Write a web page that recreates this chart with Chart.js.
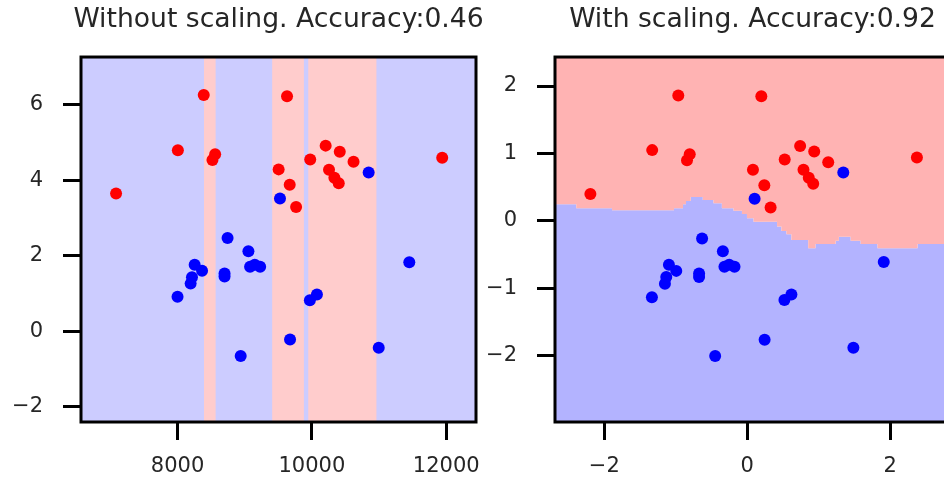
<!DOCTYPE html>
<html>
<head>
<meta charset="utf-8">
<script src="https://cdn.jsdelivr.net/npm/chart.js@4/dist/chart.umd.min.js"></script>
<style>
  html, body { margin: 0; padding: 0; background: #fff; overflow: hidden; width: 944px; height: 481px; }
  canvas { position: absolute; top: 0; }
  #left { left: 0; }
  #right { left: 474px; }
</style>
</head>
<body>
<canvas id="left" width="557" height="481"></canvas>
<canvas id="right" width="557" height="481"></canvas>
<script>
// ---- Unscaled features (left panel) ----
const rawRedX  = [8390, 9630, 8005, 8560, 8520, 7085, 10205, 10415, 9975, 10620, 9505, 10255, 10335, 10400, 9670, 9765, 11940];
const rawRedY  = [6.26, 6.23, 4.80, 4.69, 4.54, 3.65, 4.92, 4.76, 4.55, 4.49, 4.29, 4.28, 4.07, 3.92, 3.88, 3.29, 4.60];
const rawBlueX = [10845, 9525, 8745, 9055, 8255, 8365, 9080, 9150, 9230, 8700, 8700, 8215, 8195, 8000, 11450, 10075, 9970, 9675, 10995, 8940];
const rawBlueY = [4.21, 3.52, 2.47, 2.12, 1.76, 1.60, 1.71, 1.76, 1.71, 1.53, 1.45, 1.43, 1.26, 0.91, 1.83, 0.97, 0.82, -0.22, -0.44, -0.66];

// Decision regions of the unscaled model: edges along feature 1 and the class of each interval (1 = red)
const rawEdges   = [8394, 8567, 9409, 9881, 9946, 10961];
const rawClasses = [0, 1, 0, 1, 0, 1, 0];

// ---- Standardised features (right panel) ----
const stdRedX  = [-0.965, 0.197, -1.33, -0.805, -0.843, -2.195, 0.740, 0.937, 0.524, 1.133, 0.080, 0.787, 0.861, 0.923, 0.239, 0.327, 2.374];
const stdRedY  = [1.86, 1.85, 1.05, 0.99, 0.90, 0.40, 1.11, 1.03, 0.91, 0.87, 0.76, 0.76, 0.64, 0.55, 0.53, 0.20, 0.94];
const stdBlueX = [1.344, 0.103, -0.632, -0.341, -1.096, -0.993, -0.319, -0.253, -0.178, -0.674, -0.674, -1.133, -1.152, -1.334, 1.910, 0.618, 0.520, 0.243, 1.485, -0.449];
const stdBlueY = [0.72, 0.33, -0.26, -0.45, -0.65, -0.74, -0.68, -0.65, -0.68, -0.78, -0.83, -0.83, -0.93, -1.13, -0.61, -1.09, -1.17, -1.76, -1.88, -2.00];

// Decision boundary of the scaled model: each level holds from its x up to the next x
const stdBoundX = [-2.69, -2.392, -1.892, -1.025, -0.899, -0.857, -0.791, -0.622, -0.473, -0.355, -0.192, -0.074, -0.004, 0.088, 0.417, 0.478, 0.548, 0.618, 0.853, 0.955, 1.236, 1.282, 1.447, 1.587, 1.822, 2.383, 2.84];
const stdBoundY = [0.247, 0.188, 0.159, 0.188, 0.247, 0.296, 0.356, 0.311, 0.262, 0.188, 0.153, 0.104, 0.040, -0.010, -0.084, -0.148, -0.197, -0.281, -0.404, -0.341, -0.292, -0.233, -0.292, -0.341, -0.404, -0.341, -0.341];

// Tick values
const leftXTicks  = [8000, 10000, 12000];
const leftYTicks  = [-2, 0, 2, 4, 6];
const rightXTicks = [-2, 0, 2];
const rightYTicks = [-2, -1, 0, 1, 2];

// Axis limits
const leftXRange  = [6563, 12443];
const leftYRange  = [-2.41, 7.27];
const rightXRange = [-2.69, 2.837];
const rightYRange = [-2.98, 2.43];

const FONT = "'DejaVu Sans', sans-serif";
const TEXT = '#262626';
const fmt = v => (v < 0 ? '\u2212' + Math.abs(v) : String(v));
const zip = (xs, ys) => xs.map((x, i) => ({ x, y: ys[i] }));

// Black box round the plotting area
const frame = {
  id: 'frame',
  afterDatasetsDraw(chart) {
    const { ctx, chartArea: a } = chart;
    ctx.save();
    ctx.strokeStyle = '#000';
    ctx.lineWidth = 3;
    ctx.strokeRect(a.left, a.top, a.right - a.left, a.bottom - a.top);
    ctx.restore();
  }
};

function pointSet(data, color) {
  return { data, backgroundColor: color, borderWidth: 0, pointRadius: 6, pointHoverRadius: 6, order: 0 };
}
function areaSet(data, color, fill, order) {
  // 'before': a point's level is kept until the next point's x
  return { type: 'line', data, fill, stepped: 'before', backgroundColor: color, borderWidth: 0,
           pointRadius: 0, showLine: true, order };
}

function makeChart(id, title, xr, yr, xt, yt, datasets) {
  const tickFont = { family: FONT, size: 21 };
  const grid = { drawOnChartArea: false, drawTicks: true, tickLength: 18, tickWidth: 3, tickColor: '#000' };
  return new Chart(document.getElementById(id), {
    type: 'scatter',
    data: { datasets },
    options: {
      responsive: false,
      animation: false,
      devicePixelRatio: 1,
      layout: { padding: 0 },
      plugins: {
        legend: { display: false },
        tooltip: { enabled: false },
        title: {
          display: true, text: title, color: TEXT,
          font: { family: FONT, size: 26.6, weight: 'normal', lineHeight: 1.2 },
          padding: { top: 4, bottom: 21.1 }
        }
      },
      scales: {
        x: {
          type: 'linear', position: 'bottom', min: xr[0], max: xr[1],
          afterBuildTicks: s => { s.ticks = xt.map(v => ({ value: v })); },
          afterFit: s => { s.height = 59; },
          grid, border: { display: false },
          ticks: { color: TEXT, font: tickFont, padding: 14, maxRotation: 0, callback: fmt }
        },
        y: {
          type: 'linear', position: 'left', min: yr[0], max: yr[1],
          afterBuildTicks: s => { s.ticks = yt.map(v => ({ value: v })); },
          afterFit: s => { s.width = 81; },
          grid, border: { display: false },
          ticks: { color: TEXT, font: tickFont, padding: 20, callback: fmt }
        },
        yR: {
          type: 'linear', position: 'right', display: true,
          afterFit: s => { s.width = 81; },
          grid: { display: false }, border: { display: false },
          ticks: { display: false }
        }
      }
    },
    plugins: [frame]
  });
}

// Left panel: interval regions built from the edges and classes
const leftRegion = [{ x: leftXRange[0], y: rawClasses[0] ? leftYRange[1] : leftYRange[0] }];
rawEdges.forEach((e, i) => leftRegion.push({ x: e, y: rawClasses[i + 1] ? leftYRange[1] : leftYRange[0] }));
leftRegion.push({ x: leftXRange[1], y: leftRegion[leftRegion.length - 1].y });
const leftBack = [{ x: leftXRange[0], y: leftYRange[1] }, { x: leftXRange[1], y: leftYRange[1] }];

makeChart('left', 'Without scaling. Accuracy:0.46', leftXRange, leftYRange, leftXTicks, leftYTicks, [
  pointSet(zip(rawRedX, rawRedY), '#ff0000'),
  pointSet(zip(rawBlueX, rawBlueY), '#0000ff'),
  areaSet(leftRegion, '#ffcccc', 'start', 1),
  areaSet(leftBack, '#ccccff', 'start', 2)
]);

const boundary = zip(stdBoundX, stdBoundY);
makeChart('right', 'With scaling. Accuracy:0.92', rightXRange, rightYRange, rightXTicks, rightYTicks, [
  pointSet(zip(stdRedX, stdRedY), '#ff0000'),
  pointSet(zip(stdBlueX, stdBlueY), '#0000ff'),
  areaSet(boundary, '#ffb3b3', 'end', 1),
  areaSet(boundary, '#b3b3ff', 'start', 2)
]);
</script>
</body>
</html>
